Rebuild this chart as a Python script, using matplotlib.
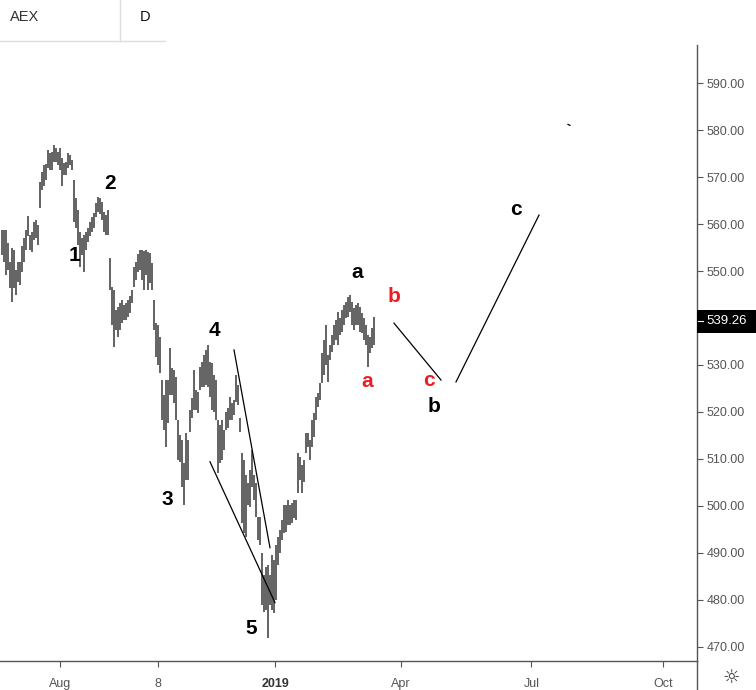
import matplotlib.pyplot as plt
import numpy as np
from matplotlib.lines import Line2D
from matplotlib.patches import Rectangle
from matplotlib.transforms import blended_transform_factory

# daily AEX bars, high / low
highs = [558.7, 558.7, 558.7, 556.0, 551.9, 554.9, 554.5, 550.2, 551.9, 551.9,
         555.3, 557.0, 558.7, 561.7, 557.7, 558.3, 560.4, 560.9, 559.8, 568.9,
         571.1, 572.6, 572.8, 575.7, 575.1, 575.3, 576.8, 576.2, 575.3, 576.2,
         574.0, 573.0, 573.2, 575.1, 574.7, 573.6, 569.4, 565.5, 563.0, 558.3,
         557.0, 557.7, 558.3, 559.1, 560.4, 561.5, 562.3, 564.5, 565.7, 565.5,
         564.6, 562.5, 561.9, 563.0, 552.8, 546.6, 546.0, 541.7, 542.3, 543.2,
         543.8, 542.8, 543.2, 543.8, 544.7, 546.0, 550.8, 551.9, 553.6, 554.5,
         554.5, 554.2, 554.5, 554.0, 553.8, 551.7, 543.8, 538.9, 538.5, 535.9,
         526.8, 523.6, 526.8, 526.8, 533.6, 529.3, 528.9, 527.4, 518.3, 515.1,
         514.0, 509.1, 515.5, 514.0, 520.4, 523.0, 528.9, 524.7, 524.2, 529.6,
         530.6, 532.1, 533.2, 534.2, 530.6, 530.4, 527.9, 526.8, 518.3, 517.2,
         518.3, 516.2, 520.0, 520.8, 523.2, 521.9, 522.5, 527.9, 525.7, 518.7,
         511.3, 509.8, 506.6, 504.9, 507.6, 511.9, 506.6, 504.9, 497.7, 497.7,
         490.0, 485.3, 487.0, 487.4, 485.3, 489.6, 488.5, 491.7, 493.4, 494.9,
         497.0, 500.2, 500.2, 501.3, 500.2, 500.6, 501.3, 501.3, 511.3, 510.4,
         508.7, 509.8, 515.5, 515.5, 514.0, 518.3, 519.8, 523.2, 524.0, 526.2,
         532.5, 535.3, 538.5, 532.1, 534.2, 536.4, 538.5, 539.6, 541.3, 540.0,
         541.7, 542.8, 543.4, 544.5, 544.9, 543.4, 542.1, 542.8, 543.2, 542.3,
         541.0, 540.0, 538.5, 536.4, 535.9, 537.9, 540.2]
lows = [553.4, 551.9, 549.1, 550.2, 546.4, 543.4, 546.4, 544.9, 547.7, 547.0,
        549.8, 551.9, 554.5, 557.4, 554.5, 554.0, 556.6, 557.0, 555.5, 563.4,
        567.2, 568.1, 569.4, 571.9, 571.5, 571.5, 573.2, 573.2, 572.6, 571.5,
        568.1, 570.4, 570.4, 571.9, 572.6, 571.5, 560.4, 559.1, 555.5, 550.8,
        553.4, 549.8, 554.5, 556.2, 557.4, 558.3, 559.1, 561.5, 562.5, 562.1,
        560.9, 558.3, 557.7, 557.7, 546.0, 538.5, 533.8, 537.4, 535.9, 537.4,
        538.9, 539.6, 539.6, 540.2, 541.0, 543.2, 546.6, 548.1, 549.8, 550.2,
        548.1, 546.0, 549.1, 546.0, 547.4, 546.0, 537.4, 531.7, 530.0, 528.3,
        518.3, 516.2, 512.5, 517.6, 523.6, 523.6, 521.9, 518.3, 509.8, 509.3,
        504.0, 500.2, 505.5, 505.5, 515.7, 518.7, 520.4, 520.4, 519.8, 524.7,
        525.3, 525.3, 525.7, 525.3, 523.2, 520.4, 520.0, 518.3, 507.0, 509.1,
        509.8, 511.9, 516.2, 516.6, 518.3, 518.3, 519.3, 522.1, 521.5, 515.7,
        496.4, 494.2, 493.4, 500.2, 499.8, 504.0, 501.3, 497.7, 492.8, 491.7,
        478.9, 477.4, 477.9, 471.9, 478.9, 477.9, 477.2, 480.0, 487.4, 490.0,
        492.8, 494.2, 494.4, 495.9, 495.9, 496.4, 497.4, 497.0, 502.7, 505.5,
        502.7, 505.1, 511.3, 512.5, 509.8, 512.5, 514.7, 518.3, 521.0, 522.5,
        526.2, 527.9, 530.0, 526.4, 531.1, 532.8, 534.2, 535.3, 534.2, 536.4,
        537.0, 538.5, 540.0, 540.2, 541.3, 538.5, 537.4, 538.5, 538.5, 537.0,
        536.8, 535.3, 534.2, 529.6, 532.5, 533.6, 534.2]
last_close = 539.26

date_ticks = [29.2, 77.8, 136.7, 199.5, 264.7, 330.4]
date_labels = ['Aug', '8', '2019', 'Apr', 'Jul', 'Oct']
price_ticks = np.arange(470, 591, 10)

# elliott wave counts
wave_text = ['1', '2', '3', '4', '5', 'a', 'a', 'b', 'c', 'b', 'c']
wave_x = [36.5, 54, 82.5, 106, 124.5, 177.5, 182.5, 196, 213.5, 216, 257]
wave_y = [553.4, 568.7, 501.3, 537.4, 474.0, 549.6, 526.4, 544.5, 526.6, 521.1, 563.0]
wave_col = ['k', 'k', 'k', 'k', 'k', 'k', 'red', 'red', 'red', 'k', 'k']

# hand drawn lines (wedge + projection)
seg_x = [(116, 134), (104, 136.5), (196, 219.5), (227, 268.5)]
seg_y = [(533.2, 491.1), (509.4, 479.4), (538.9, 526.8), (526.4, 561.9)]

plt.rcParams['font.family'] = ['Liberation Sans', 'DejaVu Sans']
W, H = 756, 690
fig = plt.figure(figsize=(W / 100, H / 100), dpi=100)
ax = fig.add_axes([0, 29 / H, 697 / W, (661 - 45) / H])

x = np.arange(len(highs))
ax.vlines(x, lows, highs, color='#383838', lw=1.1)

for xs, ys in zip(seg_x, seg_y):
    ax.plot(xs, ys, color='black', lw=0.9)
ax.plot([283, 284], [581.2, 581.0], color='black', lw=0.9)

red = '#ee1c25'
for t, xx, yy, c in zip(wave_text, wave_x, wave_y, wave_col):
    ax.text(xx, yy, t, color=red if c == 'red' else 'black', fontsize=15,
            fontweight='bold', ha='center', va='center')

ax.set_xlim(-1, 347.5)
ax.set_ylim(467.0, 598.1)

ax.spines['top'].set_visible(False)
ax.spines['left'].set_visible(False)
for s in ['bottom', 'right']:
    ax.spines[s].set_color('#555555')
    ax.spines[s].set_linewidth(1.0)

ax.yaxis.tick_right()
ax.set_yticks(price_ticks)
# 540.00 sits under the last price box
ax.set_yticklabels(['' if v == 540 else '%.2f' % v for v in price_ticks])
ax.tick_params(axis='y', direction='out', length=4, width=0.8, colors='#555555',
               labelsize=9, pad=3)
ax.set_xticks(date_ticks)
ax.set_xticklabels(date_labels)
ax.tick_params(axis='x', direction='out', length=4, width=0.8, colors='#555555',
               labelsize=9, pad=8)
ax.get_xticklabels()[2].set_fontweight('bold')
ax.get_xticklabels()[2].set_color('#333333')

# last price box on the scale
bt = blended_transform_factory(fig.transFigure, ax.transData)
fig.add_artist(Rectangle((697 / W, last_close - 2.35), 59 / W, 4.7, transform=bt,
                         facecolor='black', edgecolor='none', clip_on=False))
fig.add_artist(Line2D([698 / W, 703 / W], [last_close, last_close], transform=bt,
                      color='white', lw=0.8))
fig.text(727 / W, last_close, '%.2f' % last_close, transform=bt, color='white',
         fontsize=9.5, ha='center', va='center')

# right scale line goes down to the bottom
fig.add_artist(Line2D([697 / W, 697 / W], [0, 29 / H], color='#555555', lw=1.0))

# header
fig.add_artist(Line2D([0, 165 / W], [1 - 41 / H, 1 - 41 / H], color='#dcdde3', lw=1.0))
fig.add_artist(Line2D([120 / W, 120 / W], [1 - 41 / H, 1], color='#dcdde3', lw=1.0))
fig.text(10 / W, 1 - 17 / H, 'AEX', fontsize=10.5, color='#333333', va='center')
fig.text(140 / W, 1 - 17 / H, 'D', fontsize=10.5, color='#111111', va='center')

fig.text(731 / W, 1 - 677 / H, '☼', family='DejaVu Sans', fontsize=14,
         color='#333333', ha='center', va='center')

fig.savefig('out.png', dpi=100)
